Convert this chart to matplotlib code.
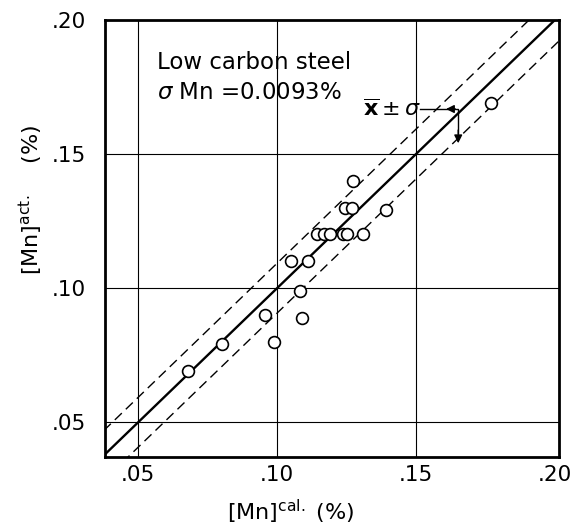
# -*- coding: utf-8 -*-
import numpy as np
from matplotlib import pyplot as plt

mn_cal = [0.068, 0.080, 0.0955, 0.099, 0.105, 0.1112, 0.1081, 0.1089,
          0.1144, 0.1168, 0.1192, 0.1238, 0.1253, 0.1310, 0.1243, 0.1271,
          0.1391, 0.1273, 0.1769]
mn_act = [0.069, 0.079, 0.090, 0.080, 0.110, 0.110, 0.099, 0.089,
          0.120, 0.120, 0.120, 0.120, 0.120, 0.120, 0.130, 0.130,
          0.129, 0.140, 0.169]
sigma_mn = 0.0093
ticks = [0.05, 0.10, 0.15, 0.20]
tick_labels = [".05", ".10", ".15", ".20"]

plt.rcParams['font.family'] = 'DejaVu Sans'
plt.rcParams['mathtext.fontset'] = 'dejavusans'

fig = plt.figure(figsize=(5.79, 5.25), dpi=100)
ax = fig.add_axes([0.1813, 0.1295, 0.7842, 0.8324])

ax.set_xlim(0.038, 0.2015)
ax.set_ylim(0.037, 0.200)

# grade só nas linhas internas
for t in ticks[:-1]:
    ax.axvline(t, color="black", lw=0.8, zorder=1)
    ax.axhline(t, color="black", lw=0.8, zorder=1)

# linha y = x e faixa de +/- sigma
xx = np.array([0.0, 0.3])
ax.plot(xx, xx, color="black", lw=1.7, zorder=3)
ax.plot(xx, xx + sigma_mn, color="black", lw=1.0, dashes=(7, 4), zorder=3)
ax.plot(xx, xx - sigma_mn, color="black", lw=1.0, dashes=(7, 4), zorder=3)

ax.plot(mn_cal, mn_act, "o", mfc="white", mec="black", mew=1.2, ms=8.5, zorder=4)

ax.set_xticks(ticks)
ax.set_yticks(ticks)
ax.set_xticklabels(tick_labels)
ax.set_yticklabels(tick_labels)
ax.tick_params(length=0, labelsize=15.5)
ax.tick_params(axis="x", pad=6)
ax.tick_params(axis="y", pad=14)
for s in ax.spines.values():
    s.set_linewidth(2.0)

# textos
ax.text(0.0569, 0.1843, "Low carbon steel", fontsize=16.5, va="center", ha="left")
ax.text(0.0569, 0.1731, r"$\sigma$ Mn =0.0093%", fontsize=16.5, va="center", ha="left")

# anotação x barra +/- sigma
yc = 0.1668
xc = 0.1652
ax.text(0.1518, yc, r"$\overline{\mathbf{x}}\pm\sigma$", fontsize=16, va="center", ha="right")
ax.plot([0.1515, xc, xc], [yc, yc, 0.158], color="black", lw=1.0, zorder=5)
ax.annotate("", xy=(0.1598, yc), xytext=(xc, yc),
            arrowprops=dict(arrowstyle="-|>", color="black", lw=1.0, mutation_scale=12))
ax.annotate("", xy=(xc, 0.1530), xytext=(xc, 0.160),
            arrowprops=dict(arrowstyle="-|>", color="black", lw=1.0, mutation_scale=12))

fig.text(291 / 579, 1 - 520 / 525, r"[Mn]$^{\mathrm{cal.}}$ (%)", fontsize=16,
         ha="center", va="baseline")
fig.text(31 / 579, 1 - 200 / 525, r"[Mn]$^{\mathrm{act.}}$    (%)", fontsize=16,
         ha="center", va="center", rotation=90)

fig.savefig("out.png", dpi=100)
